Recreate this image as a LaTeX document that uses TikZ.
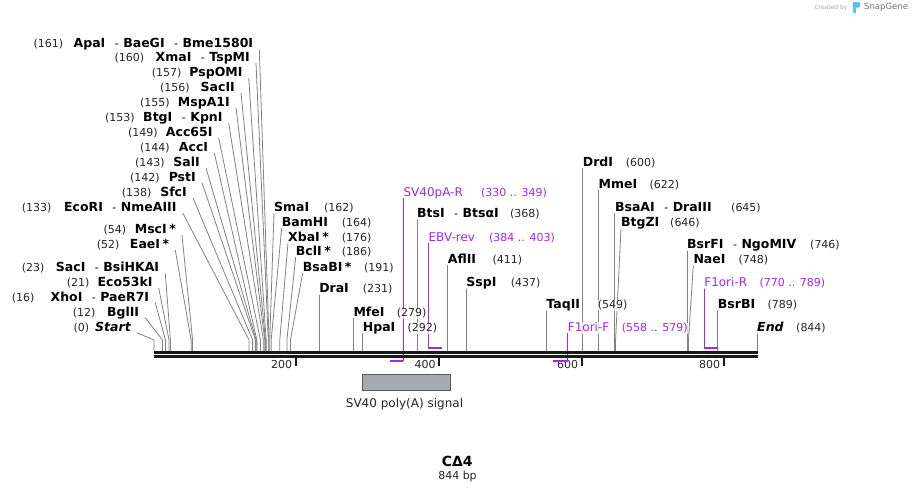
\documentclass[tikz,border=0pt]{standalone}
\usepackage{fontspec}
\setmainfont{DejaVu Sans}
\pgfdeclarelayer{back}
\pgfdeclarelayer{bg}
\pgfsetlayers{back,bg,main}
\definecolor{purp}{RGB}{160,40,240}
\definecolor{conngray}{RGB}{130,130,130}
\definecolor{featfill}{RGB}{166,169,176}
\definecolor{logoblue}{RGB}{90,196,240}
\tikzset{
  numtxt/.style={font=\fontsize{11}{13}\selectfont, text=black!85, inner sep=0pt, fill=white, fill opacity=0.7, text opacity=1, text height=8.5pt, text depth=2.5pt},
  nametxt/.style={font=\fontsize{12.5}{14}\selectfont\bfseries, text=black, inner sep=0pt, fill=white, fill opacity=0.7, text opacity=1, text height=9pt, text depth=2.5pt},
  primtxt/.style={font=\fontsize{12}{14}\selectfont, text=purp, inner sep=0pt, fill=white, fill opacity=0.7, text opacity=1, text height=9pt, text depth=2.5pt},
  primnum/.style={font=\fontsize{11}{13}\selectfont, text=purp, inner sep=0pt, fill=white, fill opacity=0.7, text opacity=1, text height=8.5pt, text depth=2.5pt},
  conn/.style={draw=conngray, line width=0.8pt},
  primline/.style={draw=purp, line width=1.1pt},
  primbar/.style={draw=purp, line width=2pt},
  seqline/.style={draw=black!90, line width=2.6pt},
  tickmark/.style={draw=black!90, line width=2pt},
  ticklab/.style={font=\fontsize{11}{13}\selectfont, text=black!85, inner sep=0pt, anchor=base east},
  featbox/.style={draw=black!65, line width=0.8pt, fill=featfill, minimum width=88pt, minimum height=16pt, inner sep=0pt},
}
\newcommand\dsh{\hspace{9.5pt}{\normalfont\fontsize{11}{13}\selectfont -}\hspace{4.5pt}}
\newcommand\stx{\hspace{2.5pt}*}
% left label: id, numx, endx, y, num, names, pos
\newcommand\Llab[7]{%
  \node[numtxt, anchor=base west] (#1n) at (#2, #4+4.4) {#5};
  \node[nametxt, anchor=base east] (#1) at (#3, #4+4.4) {#6};
  \coordinate (#1p) at ({154+0.7145*#7}, 340);
  \begin{pgfonlayer}{bg}
    \draw[conn] ([shift={(6,5)}]#1.east) -- (#1p) -- ++(0,11);
  \end{pgfonlayer}
}
% right slanted label: id, namex, y, name, numx, num, pos
\newcommand\Rlab[7]{%
  \node[nametxt, anchor=base west] (#1) at (#2, #3+4.4) {#4};
  \node[numtxt, anchor=base west] (#1n) at (#5, #3+4.4) {#6};
  \coordinate (#1p) at ({154+0.7145*#7}, 340);
  \begin{pgfonlayer}{bg}
    \draw[conn] ([shift={(0,5)}]#1.west) -- (#1p) -- ++(0,11);
  \end{pgfonlayer}
}
% right vertical label: id, y, name, numx, num, pos
\newcommand\Vlab[6]{%
  \node[nametxt, anchor=base west] (#1) at ({154+0.7145*#6}, #2+4.4) {#3};
  \node[numtxt, anchor=base west] (#1n) at (#4, #2+4.4) {#5};
  \coordinate (#1p) at ({154+0.7145*#6}, 351);
  \begin{pgfonlayer}{bg}
    \draw[conn] ([shift={(0,5)}]#1.west) -- (#1p);
  \end{pgfonlayer}
}
% primer: id, y, name, numx, num, vertical pos, bar start, bar end, bar y
\newcommand\Plab[9]{%
  \node[primtxt, anchor=base west] (#1) at ({154+0.7145*#6}, #2+4.4) {#3};
  \node[primnum, anchor=base west] (#1n) at (#4, #2+4.4) {#5};
  \coordinate (#1b) at ({154+0.7145*#6}, #9);
  \coordinate (#1s) at ({154+0.7145*#7}, #9);
  \coordinate (#1e) at ({154+0.7145*#8}, #9);
  \begin{pgfonlayer}{bg}
    \draw[primline] ([shift={(0,5)}]#1.west) -- (#1b);
  \end{pgfonlayer}
  \draw[primbar] (#1s) -- (#1e);
}
\begin{document}
\begin{tikzpicture}[x=1pt, y=-1pt]
\useasboundingbox (0,0) rectangle (912,490);
\begin{pgfonlayer}{back}
  \fill[white] (0,0) rectangle (912,490);
\end{pgfonlayer}

% sequence backbone
\coordinate (seqA1) at (154,352.3);
\coordinate (seqB1) at (757.7,352.3);
\coordinate (seqA2) at (154,356.3);
\coordinate (seqB2) at (757.7,356.3);
\draw[seqline] (seqA1) -- (seqB1);
\draw[seqline] (seqA2) -- (seqB2);

% ticks
\draw[tickmark] (295.7,357.7) -- (295.7,365.5);
\draw[tickmark] (439,357.7) -- (439,365.5);
\draw[tickmark] (581.7,357.7) -- (581.7,365.5);
\draw[tickmark] (723.7,357.7) -- (723.7,365.5);
\node[ticklab] (t200) at (292.3,368.3) {200};
\node[ticklab] (t400) at (435.7,368.3) {400};
\node[ticklab] (t600) at (578.3,368.3) {600};
\node[ticklab] (t800) at (720.3,368.3) {800};

% left labels
\Llab{apa}{33.3}{253.3}{43.3}{(161)}{ApaI\dsh BaeGI\dsh Bme1580I}{161}
\Llab{xma}{114.3}{250}{56.7}{(160)}{XmaI\dsh TspMI}{160}
\Llab{psp}{151.7}{242.7}{71.7}{(157)}{PspOMI}{157}
\Llab{sacii}{160}{235}{86.7}{(156)}{SacII}{156}
\Llab{msp}{140}{230}{101.7}{(155)}{MspA1I}{155}
\Llab{btg}{105}{222.7}{117}{(153)}{BtgI\dsh KpnI}{153}
\Llab{accsf}{128}{212.7}{131.7}{(149)}{Acc65I}{149}
\Llab{acc}{140}{208.3}{146.7}{(144)}{AccI}{144}
\Llab{sal}{135}{200}{161.7}{(143)}{SalI}{143}
\Llab{pst}{130}{196}{176.7}{(142)}{PstI}{142}
\Llab{sfc}{121.7}{187}{191.7}{(138)}{SfcI}{138}
\Llab{ecori}{21.7}{176.7}{206.7}{(133)}{EcoRI\dsh NmeAIII}{133}
\Llab{msc}{103.3}{176}{229}{(54)}{MscI\stx}{54}
\Llab{eae}{96.7}{169.3}{244}{(52)}{EaeI\stx}{52}
\Llab{saci}{21.7}{159.3}{267.3}{(23)}{SacI\dsh BsiHKAI}{23}
\Llab{ecok}{66.7}{152.7}{281.7}{(21)}{Eco53kI}{21}
\Llab{xho}{11.7}{149.3}{296.7}{(16)}{XhoI\dsh PaeR7I}{16}
\Llab{bgl}{72.7}{139.3}{311.7}{(12)}{BglII}{12}
\Llab{start}{73.3}{131}{326.7}{(0)}{\itshape Start}{0}

% right slanted labels
\Rlab{sma}{274}{206.7}{SmaI}{324}{(162)}{162}
\Rlab{bam}{281.7}{221.7}{BamHI}{341.7}{(164)}{164}
\Rlab{xba}{288}{236.7}{XbaI\stx}{341.7}{(176)}{176}
\Rlab{bcl}{295.7}{251}{BclI\stx}{341.7}{(186)}{186}
\Rlab{bsab}{302.7}{266.7}{BsaBI\stx}{364}{(191)}{191}
\Rlab{btgz}{621}{222.3}{BtgZI}{670}{(646)}{646}
\Rlab{nae}{693.3}{259}{NaeI}{738.3}{(748)}{748}

% right vertical labels
\Vlab{dra}{288.3}{DraI}{362.7}{(231)}{231}
\Vlab{mfe}{311.7}{MfeI}{396.7}{(279)}{279}
\Vlab{hpa}{326.7}{HpaI}{407.3}{(292)}{292}
\Vlab{bts}{213.3}{BtsI\dsh BtsαI}{510}{(368)}{368}
\Vlab{afl}{259}{AflII}{492.3}{(411)}{411}
\Vlab{ssp}{282.3}{SspI}{510.7}{(437)}{437}
\Vlab{taq}{304}{TaqII}{597.7}{(549)}{549}
\Vlab{drd}{162.3}{DrdI}{625.7}{(600)}{600}
\Vlab{mme}{184}{MmeI}{649.3}{(622)}{622}
\Vlab{bsaa}{207.3}{BsaAI\dsh DraIII}{731}{(645)}{645}
\Vlab{bsrf}{244}{BsrFI\dsh NgoMIV}{810}{(746)}{746}
\Vlab{bsrb}{304}{BsrBI}{767.3}{(789)}{789}
\Vlab{end}{326.7}{\itshape End}{796}{(844)}{844}

% primers
\Plab{svr}{191.7}{SV40pA-R}{481}{(330 .. 349)}{349}{330}{349}{360.7}
\Plab{ebv}{237.3}{EBV-rev}{489}{(384 .. 403)}{384}{384}{403}{347.7}
\Plab{fof}{326.7}{F1ori-F}{621.7}{(558 .. 579)}{579}{558}{579}{360.7}
\Plab{for}{282.3}{F1ori-R}{759.3}{(770 .. 789)}{770}{770}{789}{347.7}

% feature
\node[featbox] (sv40) at (406,382) {};
\node[font=\fontsize{12}{14}\selectfont, text=black!85, anchor=base, inner sep=0pt] (sv40lab) at (404.5,407.5) {SV40 poly(A) signal};

% title
\node[font=\fontsize{14}{16}\selectfont\bfseries, anchor=base, inner sep=0pt] (title) at (457.3,466.7) {CΔ4};
\node[font=\fontsize{11}{13}\selectfont, text=black!85, anchor=base, inner sep=0pt] (bp) at (457.5,479.3) {844 bp};

% credit
\node[font=\fontsize{6}{7}\selectfont, text=black!35, anchor=base west, inner sep=0pt] (credit) at (814.3,9.3) {Created by};
\fill[logoblue] (853,2) rectangle (855.8,12.5);
\fill[logoblue] (853,2) -- (858.5,2) .. controls (861,2) and (861,7.5) .. (858.5,7.5) -- (853,7.5) -- cycle;
\node[font=\fontsize{8.5}{10}\selectfont, text=black!55, anchor=base west, inner sep=0pt] (snap) at (864,9.8) {SnapGene};
\end{tikzpicture}
\end{document}
